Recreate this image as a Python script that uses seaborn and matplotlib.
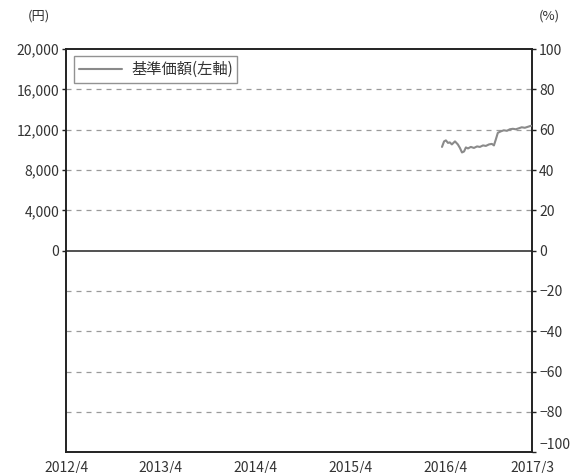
import pandas as pd
import matplotlib.pyplot as plt
import seaborn as sns

# 基準価額 (円)
dates = ["2016-03-19", "2016-03-27", "2016-04-03", "2016-04-11", "2016-04-18",
         "2016-04-26", "2016-05-08", "2016-05-19", "2016-05-27", "2016-06-04",
         "2016-06-12", "2016-06-19", "2016-06-27", "2016-07-08", "2016-07-20",
         "2016-08-01", "2016-08-12", "2016-08-24", "2016-09-04", "2016-09-16",
         "2016-09-27", "2016-10-05", "2016-10-13", "2016-10-20", "2016-11-01",
         "2016-11-12", "2016-11-24", "2016-12-05", "2016-12-17", "2016-12-28",
         "2017-01-09", "2017-01-20", "2017-02-01", "2017-02-13", "2017-02-25"]
nav = [10300, 10850, 10950, 10700, 10750,
       10550, 10850, 10550, 10200, 9750,
       9850, 10250, 10150, 10300, 10200,
       10350, 10300, 10450, 10400, 10550,
       10600, 10450, 11100, 11700, 11850,
       11950, 11900, 12050, 12100, 12050,
       12150, 12250, 12200, 12300, 12400]

x_ticks = ["2012-04-01", "2013-04-01", "2014-04-01", "2015-04-01", "2016-04-01", "2017-03-01"]
x_labels = ["2012/4", "2013/4", "2014/4", "2015/4", "2016/4", "2017/3"]
left_ticks = [0, 4000, 8000, 12000, 16000, 20000]
left_labels = ["0", "4,000", "8,000", "12,000", "16,000", "20,000"]
right_ticks = [-100, -80, -60, -40, -20, 0, 20, 40, 60, 80, 100]
right_labels = ["\u2212100", "\u221280", "\u221260", "\u221240", "\u221220",
                "0", "20", "40", "60", "80", "100"]

df = pd.DataFrame({"date": pd.to_datetime(dates), "nav": nav})

sns.set_style("white")
plt.rcParams['font.family'] = ['Noto Sans CJK JP', 'DejaVu Sans']

fig = plt.figure(figsize=(5.79, 4.73), dpi=100)
ax = fig.add_axes([0.114, 0.044, 0.805, 0.852])

# dashed grid every 20%, solid zero line
for g in range(-16000, 20000, 4000):
    if g == 0:
        ax.axhline(0, color="#333333", lw=1.2, zorder=1)
    else:
        ax.axhline(g, color="#9a9a9a", lw=0.9, ls=(0, (4, 4)), zorder=1)

sns.lineplot(data=df, x="date", y="nav", ax=ax, color="#8a8a8a", lw=1.5,
             label="基準価額(左軸)", zorder=3)

ax.set_xlim(pd.Timestamp("2012-04-01"), pd.Timestamp("2017-03-01"))
ax.set_ylim(-20000, 20000)
ax.set_xticks(pd.to_datetime(x_ticks))
ax.set_xticklabels(x_labels)
ax.set_yticks(left_ticks)
ax.set_yticklabels(left_labels)
ax.set_xlabel("")
ax.set_ylabel("")

for s in ax.spines.values():
    s.set_color("#222222")
    s.set_linewidth(1.4)

ax.tick_params(axis="x", direction="in", length=7, width=1, colors="#222222",
               labelcolor="#333333", labelsize=10, pad=6)
ax.tick_params(axis="y", direction="out", length=3, width=1, colors="#222222",
               labelcolor="#333333", labelsize=10, pad=2)

ax2 = ax.twinx()
ax2.set_ylim(-100, 100)
ax2.set_yticks(right_ticks)
ax2.set_yticklabels(right_labels)
ax2.tick_params(axis="y", direction="out", length=3, width=1, colors="#222222",
                labelcolor="#333333", labelsize=10, pad=2)
for s in ax2.spines.values():
    s.set_visible(False)
# nudge the bottom right label up a little so it clears 2017/3
ax2.get_yticklabels()[0].set_va("bottom")

leg = ax.legend(loc="upper left", bbox_to_anchor=(0.018, 0.982), fontsize=11,
                frameon=True, fancybox=False, handlelength=2.8,
                borderpad=0.3, handletextpad=0.6, borderaxespad=0)
leg.get_frame().set_edgecolor("#777777")
leg.get_frame().set_linewidth(1.0)
for t in leg.get_texts():
    t.set_color("#333333")

fig.text(0.068, 0.966, "(円)", fontsize=9.5, color="#333333", ha="center", va="center")
fig.text(0.948, 0.966, "(%)", fontsize=9.5, color="#333333", ha="center", va="center")

fig.savefig("out.png", dpi=100)
